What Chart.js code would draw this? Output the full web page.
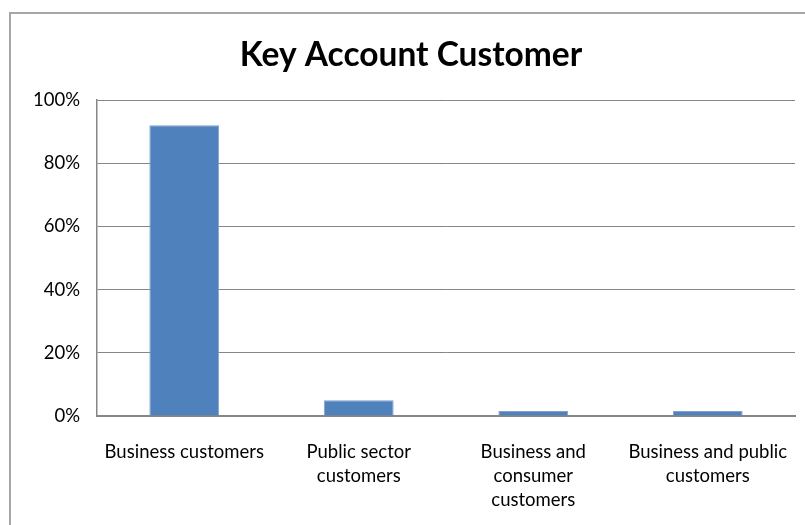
<!DOCTYPE html>
<html>
<head>
<meta charset="utf-8">
<script src="https://cdn.jsdelivr.net/npm/chart.js@4/dist/chart.umd.min.js"></script>
<style>
  html, body { margin: 0; padding: 0; background: #fff; }
  #wrap { width: 805px; height: 525px; position: relative; }
</style>
</head>
<body>
<div id="wrap"><canvas id="myChart-keyaccount"></canvas></div>
<script>
// Key account customer shares
const chartTitle = 'Key Account Customer';
const categories = [
  ['Business customers'],
  ['Public sector', 'customers'],
  ['Business and', 'consumer', 'customers'],
  ['Business and public', 'customers']
];
const shares = [92, 5, 1.6, 1.6];
const yTicks = [0, 20, 40, 60, 80, 100];

const barColor = '#4F81BD';
const gridColor = '#868686';

// frame around the chart (open on the right and bottom) plus the title
const frameAndTitle = {
  id: 'frameAndTitle',
  beforeDraw(chart) {
    const { ctx } = chart;
    ctx.save();
    ctx.strokeStyle = '#a6a6a6';
    ctx.lineWidth = 2;
    ctx.beginPath();
    ctx.moveTo(10, 530);
    ctx.lineTo(10, 13);
    ctx.lineTo(810, 13);
    ctx.stroke();

    ctx.font = 'bold 33.5px Lato';
    ctx.fillStyle = '#000';
    ctx.textAlign = 'center';
    ctx.textBaseline = 'middle';
    ctx.fillText(chartTitle, 411, 55);
    ctx.restore();
  }
};

const ctx = document.getElementById('myChart-keyaccount').getContext('2d');
const keyChart = new Chart(ctx, {
  type: 'bar',
  data: {
    labels: categories,
    datasets: [{
      data: shares,
      backgroundColor: barColor,
      borderColor: '#7FA3CE',
      borderWidth: 1,
      borderSkipped: 'bottom',
      categoryPercentage: 1.0,
      barPercentage: 0.4
    }]
  },
  options: {
    responsive: true,
    maintainAspectRatio: false,
    animation: false,
    layout: {
      padding: { left: 0, right: 10, top: 100, bottom: 0 }
    },
    plugins: {
      legend: { display: false },
      tooltip: { enabled: false },
      title: { display: false }
    },
    scales: {
      x: {
        grid: { display: false, drawTicks: false },
        border: { display: true, color: gridColor, width: 2 },
        ticks: {
          color: '#000',
          font: { family: 'Lato', size: 18.5, lineHeight: 1.3 },
          padding: 24,
          maxRotation: 0,
          autoSkip: false
        },
        afterFit(scale) {
          scale.height = 109;
          // labels sit inside their categories, no extra side room needed
          scale.paddingLeft = 0;
          scale.paddingRight = 0;
        }
      },
      y: {
        min: 0,
        max: 100,
        afterBuildTicks(scale) {
          scale.ticks = yTicks.map(v => ({ value: v }));
        },
        grid: { color: gridColor, lineWidth: 1, drawTicks: false },
        border: { display: true, color: gridColor, width: 1.5 },
        ticks: {
          color: '#000',
          font: { family: 'Lato', size: 18.5 },
          padding: 17,
          callback: v => v + '%'
        },
        afterFit(scale) {
          scale.width = 97;
          scale.paddingTop = 0;
          scale.paddingBottom = 0;
        }
      }
    }
  },
  plugins: [frameAndTitle]
});
</script>
</body>
</html>
